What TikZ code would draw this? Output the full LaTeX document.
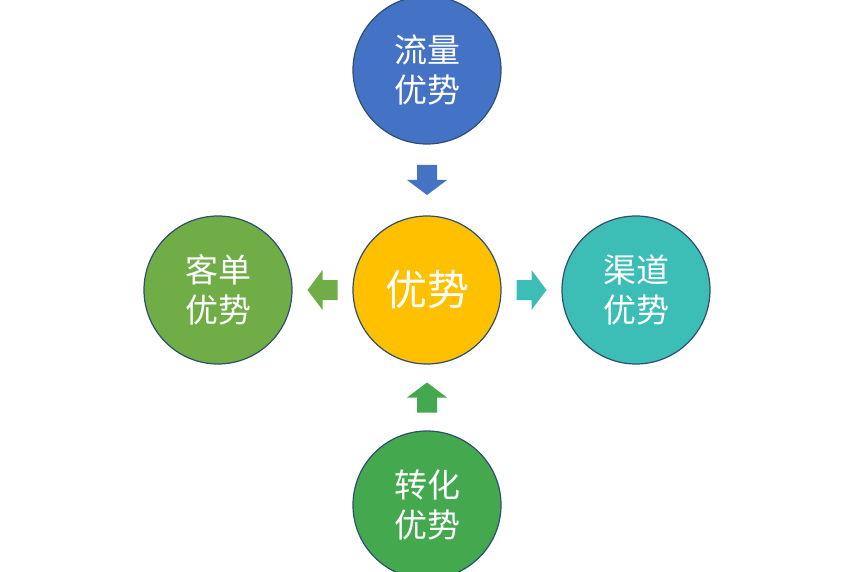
\documentclass[tikz,border=0pt]{standalone}
\usepackage{fontspec}
\newfontfamily\cjk{Noto Sans CJK SC}
\usetikzlibrary{calc}
\definecolor{cy}{HTML}{FFC000}
\definecolor{cb}{HTML}{4472C4}
\definecolor{cg}{HTML}{70AD47}
\definecolor{ct}{HTML}{3CBDB5}
\definecolor{cdg}{HTML}{44A84E}
\definecolor{edge}{HTML}{2F4F6F}
\begin{document}
\begin{tikzpicture}[x=1pt,y=-1pt,
  circ/.style={circle,draw=edge,line width=1.2pt,minimum size=148pt,inner sep=0pt,text=white,align=center,font=\cjk\fontsize{33}{40}\selectfont}]
\useasboundingbox (0,0) rectangle (854,572);
\node[circ,fill=cy,font=\cjk\fontsize{42}{46}\selectfont] (c) at (427,290) {优势};
\node[circ,fill=cb] (t) at (427,70) {流量\\优势};
\node[circ,fill=cg] (l) at (218,290) {客单\\优势};
\node[circ,fill=ct] (r) at (636,290) {渠道\\优势};
\node[circ,fill=cdg] (b) at (427,505) {转化\\优势};
\coordinate (m1) at ($(c)!0.5!(t)$);
\coordinate (m2) at ($(c)!0.5!(l)$);
\coordinate (m3) at ($(c)!0.5!(r)$);
\coordinate (m4) at ($(c)!0.5!(b)$);
% arrow polygon in local frame pointing +x: length 30, shaft half-width 10, head half-width 22
\foreach \m/\ang/\col in {m1/-90/cb, m2/180/cg, m3/0/ct, m4/90/cdg}{
  \fill[\col,shift={(\m)},rotate=\ang] (-15,-10) -- (0,-10) -- (0,-20) -- (15,0) -- (0,20) -- (0,10) -- (-15,10) -- cycle;
}
\end{tikzpicture}
\end{document}
